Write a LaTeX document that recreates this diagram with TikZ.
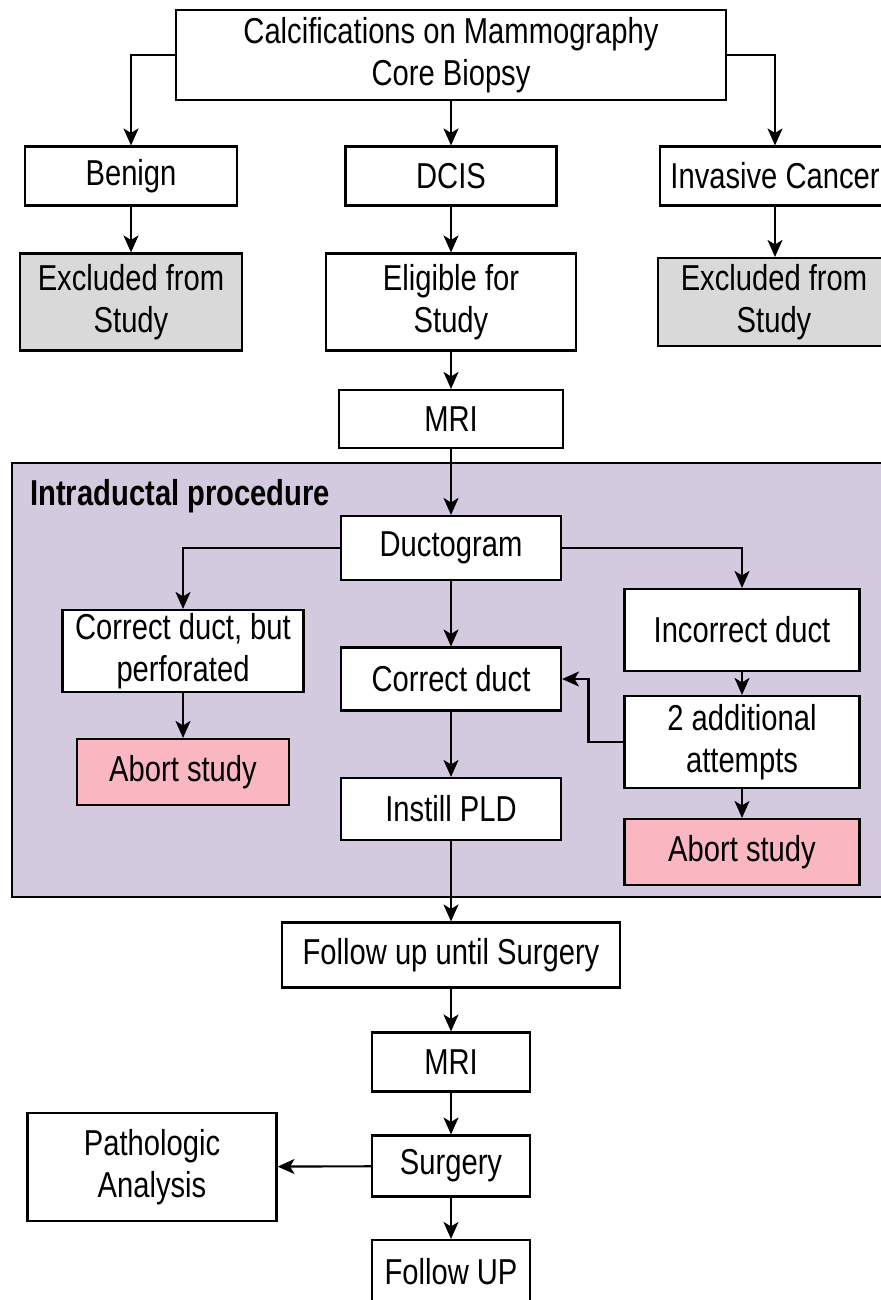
\documentclass[tikz,border=0pt]{standalone}
\usepackage{fontspec}
\setmainfont[FakeStretch=0.81]{Liberation Sans}
\usetikzlibrary{arrows.meta,positioning}

\definecolor{procfill}{RGB}{211,202,224}
\definecolor{exclfill}{RGB}{217,217,217}
\definecolor{abortfill}{RGB}{250,183,193}

\tikzset{
  box/.style={draw=black, line width=1.2pt, fill=white, inner sep=0pt,
    align=center, font=\fontsize{20.5}{24}\selectfont},
  excl/.style={box, fill=exclfill},
  abort/.style={box, fill=abortfill},
  flow/.style={line width=1.2pt, -{Stealth[length=0.34cm, width=0.3cm, inset=0.09cm]}}
}

\begin{document}
\begin{tikzpicture}[x=0.02cm, y=-0.02cm]
  \useasboundingbox (0,0) rectangle (881,1300);

  % intraductal procedure frame
  \draw [line width=1.2pt, fill=procfill] (12,463) rectangle (900,897);
  \node [anchor=west, font=\fontsize{20.5}{24}\bfseries\selectfont] (proc) at (24,496) {Intraductal procedure};

  % screening
  \node [box, minimum width=550*0.02cm, minimum height=90*0.02cm] (calc) at (451,55) {Calcifications on Mammography\\Core Biopsy};
  \node [box, minimum width=212*0.02cm, minimum height=59*0.02cm] (benign) at (131,176) {Benign};
  \node [box, minimum width=211*0.02cm, minimum height=59*0.02cm] (dcis) at (451,176) {DCIS};
  \node [box, minimum width=230*0.02cm, minimum height=59*0.02cm] (inv) at (775,176) {Invasive Cancer};
  \node [excl, minimum width=222*0.02cm, minimum height=97*0.02cm] (exclL) at (131,302) {Excluded from\\Study};
  \node [box, minimum width=250*0.02cm, minimum height=97*0.02cm] (elig) at (451,302) {Eligible for\\Study};
  \node [excl, minimum width=232*0.02cm, minimum height=88*0.02cm] (exclR) at (774,302) {Excluded from\\Study};
  \node [box, minimum width=224*0.02cm, minimum height=58*0.02cm] (mri) at (451,419) {MRI};

  % procedure
  \node [box, minimum width=220*0.02cm, minimum height=64*0.02cm] (ducto) at (451,548) {Ductogram};
  \node [box, minimum width=241*0.02cm, minimum height=82*0.02cm] (perf) at (183,651) {Correct duct, but\\perforated};
  \node [abort, minimum width=212*0.02cm, minimum height=66*0.02cm] (abortL) at (183,772) {Abort study};
  \node [box, minimum width=220*0.02cm, minimum height=63*0.02cm] (correct) at (451,679) {Correct duct};
  \node [box, minimum width=235*0.02cm, minimum height=82*0.02cm] (incorr) at (742,630) {Incorrect duct};
  \node [box, minimum width=235*0.02cm, minimum height=92*0.02cm] (attempt) at (742,742) {2 additional\\attempts};
  \node [abort, minimum width=235*0.02cm, minimum height=66*0.02cm] (abortR) at (742,852) {Abort study};
  \node [box, minimum width=220*0.02cm, minimum height=62*0.02cm] (pld) at (451,809) {Instill PLD};

  % after procedure
  \node [box, minimum width=338*0.02cm, minimum height=65*0.02cm] (follow) at (451,955) {Follow up until Surgery};
  \node [box, minimum width=158*0.02cm, minimum height=59*0.02cm] (mri2) at (451,1062) {MRI};
  \node [box, minimum width=158*0.02cm, minimum height=61*0.02cm] (surg) at (451,1166) {Surgery};
  \node [box, minimum width=249*0.02cm, minimum height=108*0.02cm] (patho) at (152,1167) {Pathologic\\Analysis};
  \node [box, minimum width=158*0.02cm, minimum height=64*0.02cm] (fup) at (451,1272) {Follow UP};

  % connectors
  \draw [flow] (calc.west) -| (benign.north);
  \draw [flow] (calc) -- (dcis);
  \draw [flow] (calc.east) -| (inv.north);
  \draw [flow] (benign) -- (exclL);
  \draw [flow] (dcis) -- (elig);
  \draw [flow] (inv.south) -- (inv.south |- exclR.north);
  \draw [flow] (elig) -- (mri);
  \draw [flow] (mri) -- (ducto);
  \draw [flow] (ducto.west) -| (perf.north);
  \draw [flow] (ducto.east) -| (incorr.north);
  \draw [flow] (ducto) -- (correct);
  \draw [flow] (perf) -- (abortL);
  \draw [flow] (incorr) -- (attempt);
  \draw [flow] (attempt) -- (abortR);
  \draw [flow] (attempt.west) -- ++(-35,0) |- (correct.east);
  \draw [flow] (correct) -- (pld);
  \draw [flow] (pld) -- (follow);
  \draw [flow] (follow) -- (mri2);
  \draw [flow] (mri2) -- (surg);
  \draw [flow] (surg) -- (patho);
  \draw [flow] (surg) -- (fup);
\end{tikzpicture}
\end{document}
